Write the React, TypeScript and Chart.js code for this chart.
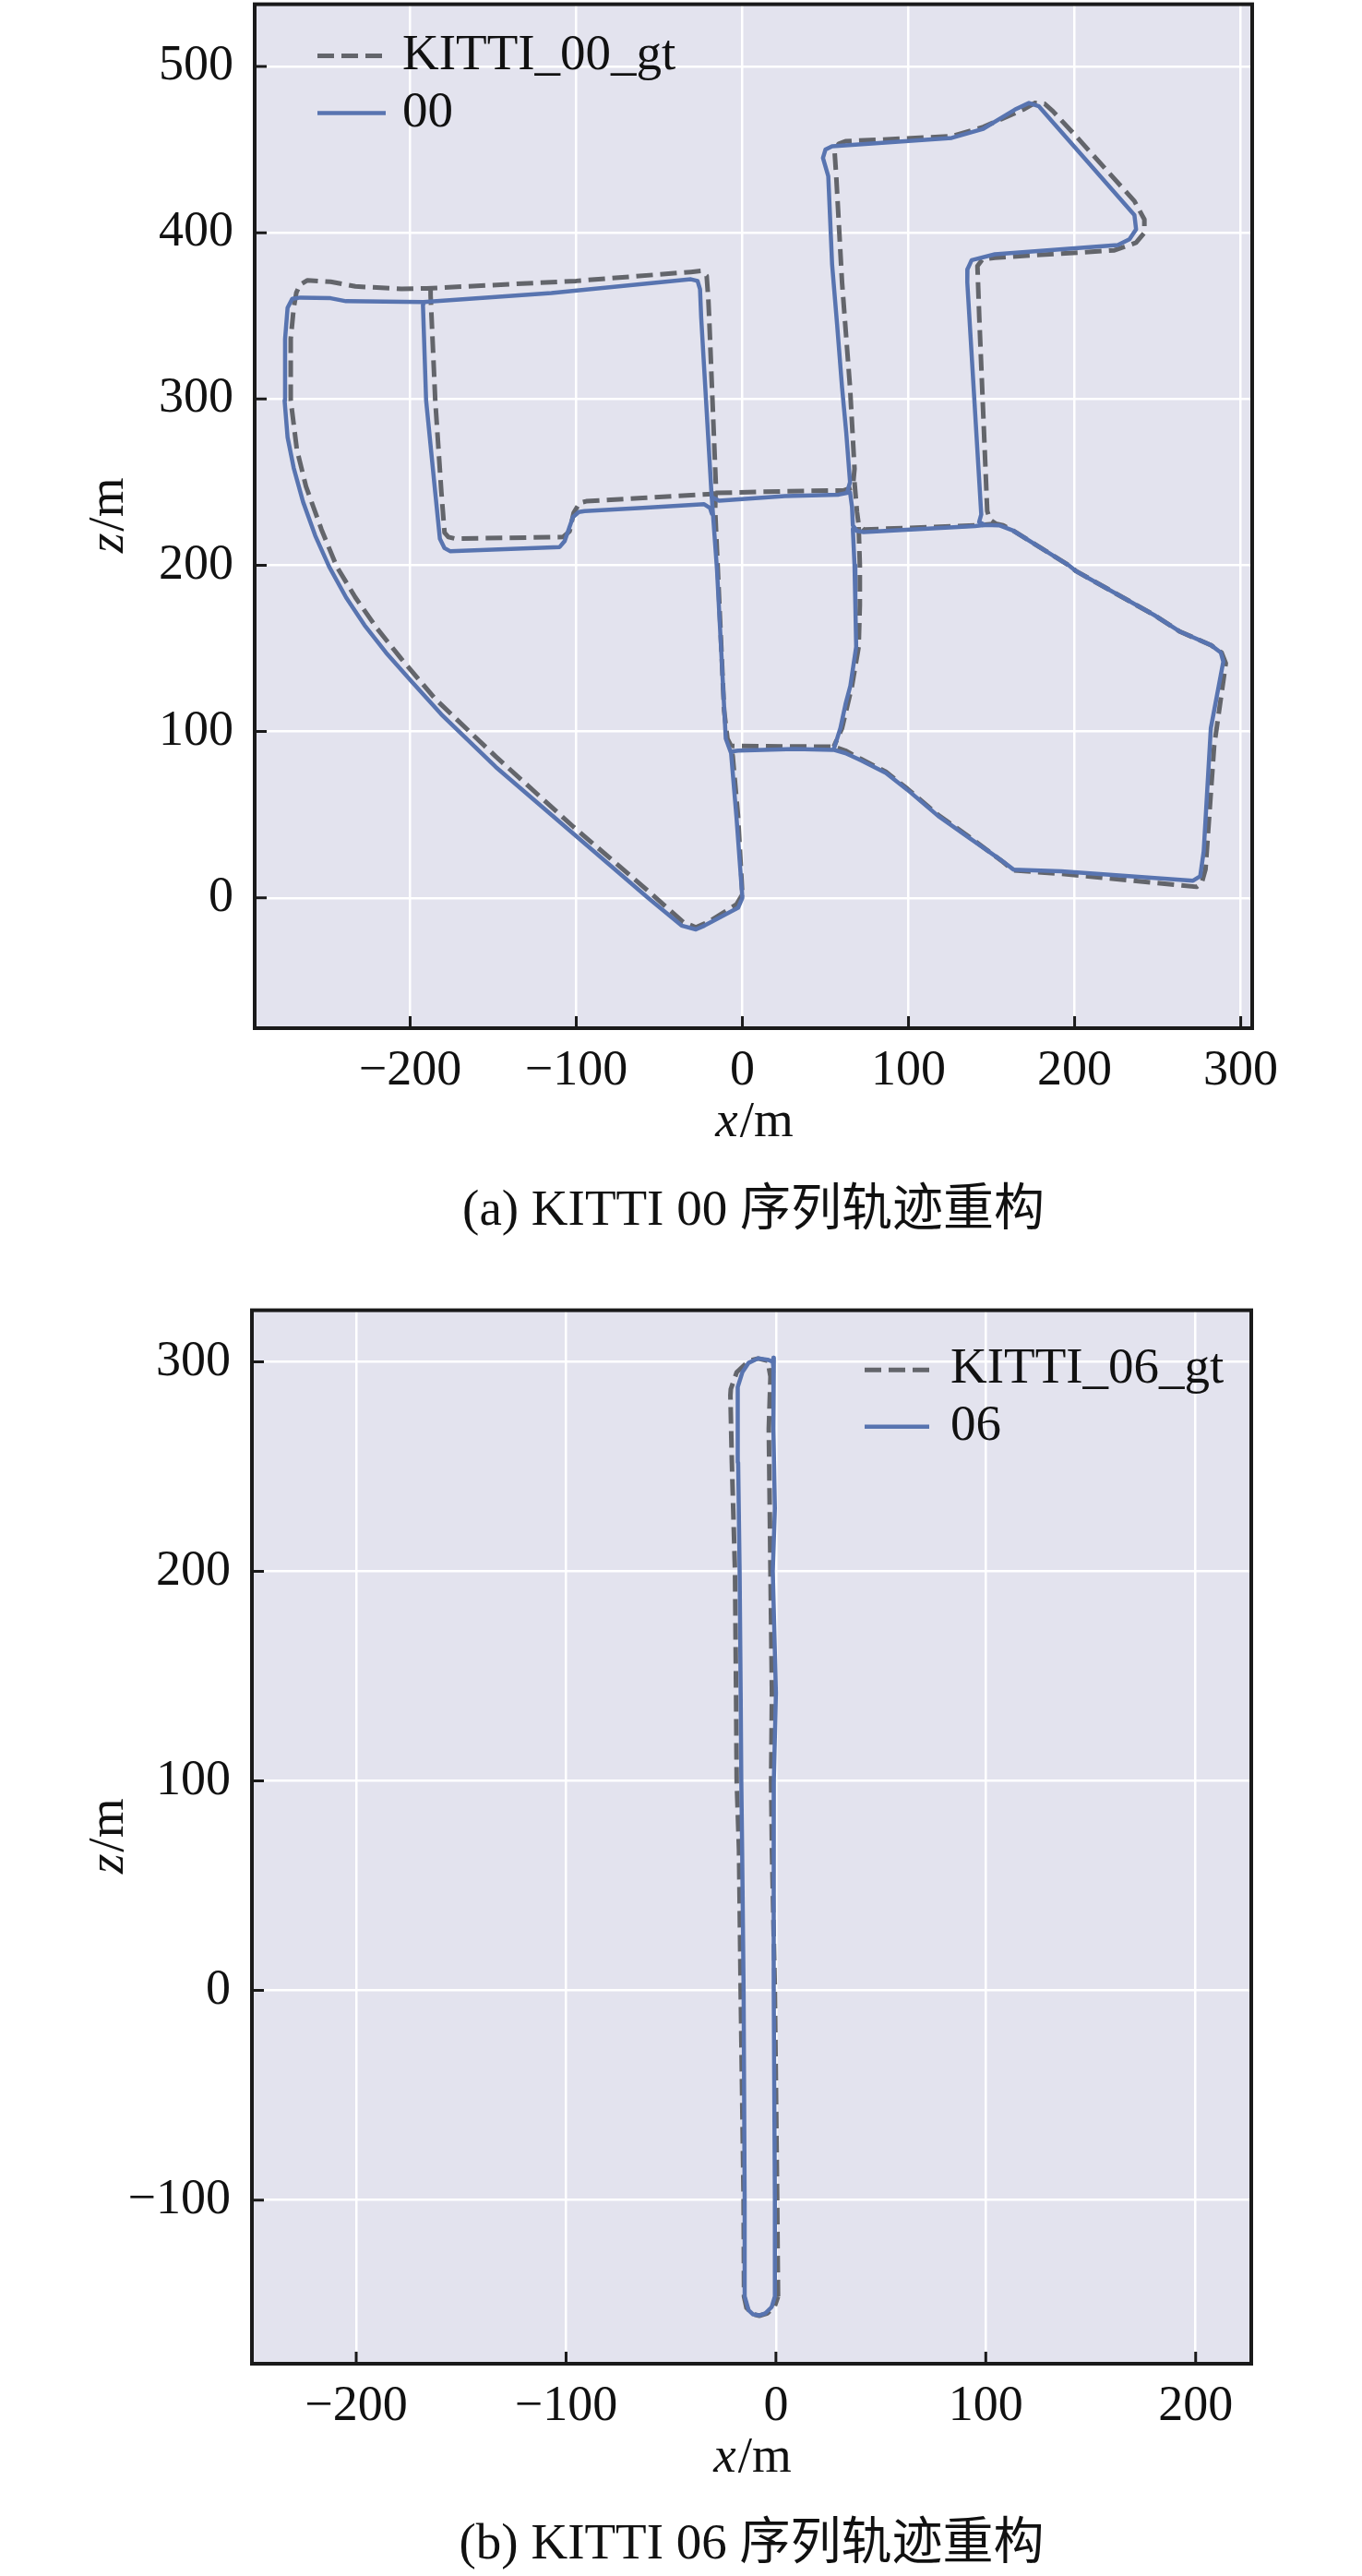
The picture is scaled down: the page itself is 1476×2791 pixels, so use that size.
import React, { useEffect, useRef } from 'react';
import { Chart, registerables } from 'chart.js';

Chart.register(...registerables);

type P = [number, number];

// ---------------- DATA: KITTI 00 ----------------
const GT00_LABEL = 'KITTI_00_gt';
const EST00_LABEL = '00';

const GT00_LOOP: P[] = [
  [0, 2], [-3.6, -4], [-20.7, -14.6], [-28, -17.8], [-35.6, -14.6], [-57, 4.4], [-101.6, 42.6],
  [-148.5, 85], [-184.9, 119.6], [-205.3, 143.7], [-220.1, 162.2], [-233, 180.7], [-244.2, 199.2],
  [-253.4, 221.5], [-262.7, 247.4], [-268.2, 269.6], [-271.9, 299.2], [-271.9, 336.2], [-270.1, 354.8],
  [-268.5, 364], [-266.4, 368.7], [-261.8, 371.4], [-247.9, 370.5], [-233, 367.7], [-205.3, 366.2],
  [-190, 366.5], [-100, 371], [-31, 376.4], [-25, 377], [-21.5, 374], [-20.5, 360], [-20, 349],
  [-16, 249], [-16.4, 233.5], [-11, 112.6], [-9, 95.7], [-6.8, 91.4], [-5.8, 85], [-2.6, 49], [0, 2],
];
const GT00_INNER: P[] = [
  [-187.7, 366.5], [-187.7, 362.2], [-184.9, 299.2], [-181.2, 243.7], [-179.3, 219.6], [-177, 217],
  [-173, 216], [-108, 217], [-104, 220.5], [-101.6, 231.4], [-98, 237.5], [-94, 238.5], [-60, 240.5],
  [-21, 242.7], [-16.2, 243],
];
const GT00_EAST: P[] = [
  [-16.2, 243.5], [25, 244.5], [61, 245], [66.5, 247], [67.5, 258], [64.8, 307], [60, 370], [56.5, 434],
  [55.5, 449], [58, 453.5], [62, 455], [126, 458], [145, 463.6], [169, 474], [176, 478], [182, 477.5],
  [187, 473], [200, 459], [236, 419], [242, 408], [242, 400], [237, 394], [224, 389.4], [152, 385],
  [144.5, 384], [141.5, 380], [142.6, 349], [147.4, 232.6], [149, 227.5], [152.5, 225], [157, 224],
  [163, 220.8], [197, 199.6], [201, 196.4], [248, 170], [263, 160.3], [282, 152], [288.5, 147.5],
  [291, 141], [284, 91.4], [278.8, 17.2], [276.5, 9], [273.5, 6.6], [192, 14.5], [163, 16.5],
  [157, 21.5], [136.4, 36.8], [117.9, 49.8], [99.3, 65.6], [86.4, 75.8], [71.6, 83.4], [62, 88.5],
  [55, 90.9], [31.4, 91], [-6.8, 91.4],
];
const GT00_LINK1: P[] = [[67.5, 250], [69, 232], [70, 224.5], [73, 221.5], [142, 224], [152.5, 225]];
const GT00_LINK2: P[] = [[70, 223], [70.7, 200], [70.7, 176], [70, 151], [66, 127.5], [60, 102], [55, 90.9]];

const EST00_LOOP: P[] = [
  [0, 0], [-2.6, -6], [-22.8, -16.7], [-28, -19], [-36.6, -16.7], [-57, 0.2], [-101.6, 38.4],
  [-148.5, 78.7], [-181.2, 110.3], [-199.7, 130.7], [-214.5, 147.4], [-227.5, 164], [-238.6, 180.7],
  [-248.8, 199.2], [-257.1, 217.7], [-264.5, 238.2], [-270.1, 258.5], [-273.8, 277], [-275.6, 299.2],
  [-275.3, 336.2], [-273.8, 354.8], [-271, 360.3], [-266, 361], [-247.9, 360.6], [-238.6, 358.8],
  [-192, 358.3], [-115, 363.7], [-31, 372], [-27, 371], [-25.5, 366], [-24.8, 349], [-18.6, 243],
  [-15.3, 197.5], [-10, 95.7], [-6.8, 87], [-3.6, 49], [0, 0],
];
const EST00_INNER: P[] = [
  [-191.5, 358.3], [-192.3, 356.5], [-190.4, 299.2], [-184.9, 243.7], [-182.1, 215.9], [-179.3, 210.3],
  [-176, 208.5], [-110, 211], [-107, 214.5], [-102, 229], [-98.5, 232], [-95, 232.6], [-60, 234.5],
  [-23, 236.7], [-19.5, 234.5], [-18.4, 231],
];
const EST00_EAST: P[] = [
  [-18.5, 241], [-14, 238.8], [25.5, 241.6], [58, 242.5], [63, 243.5], [64.8, 250], [62.5, 280],
  [60, 307], [57, 345], [54, 381], [51.7, 434], [48.5, 445], [50, 450], [54, 452], [126, 457],
  [145, 462.5], [164, 474], [172.5, 478], [178.5, 476], [236, 410.6], [237, 402], [233, 396],
  [226, 392.6], [152, 387], [138, 383.5], [135.5, 378], [135.4, 370], [143.8, 230.5], [142.5, 226],
  [146, 224.2], [154.6, 224], [163, 220.8], [197, 199.6], [201, 196.4], [248, 170], [263, 160.3],
  [282, 152], [288, 147.5], [289.5, 142], [282, 102], [277.7, 27.8], [275.6, 13], [271.3, 10.3],
  [192, 16], [163.2, 17], [154.9, 23.3], [136.4, 36.2], [117.9, 49.2], [99.3, 65], [86.4, 75.1],
  [71.6, 82.6], [62, 87], [54.9, 89], [31.4, 89.5], [-2.5, 88.5], [-6.8, 88],
];
const EST00_LINK1: P[] = [[64.8, 244], [66, 235], [66.5, 224], [69, 220.6], [73, 220], [140, 223.5], [146, 224.2]];
const EST00_LINK2: P[] = [[66.5, 222], [67.5, 200], [68, 176], [68.5, 151], [65, 127.5], [62.3, 117.4], [59, 102], [54.9, 89]];

const X_TICKS_00 = [-200, -100, 0, 100, 200, 300];
const Y_TICKS_00 = [0, 100, 200, 300, 400, 500];

// ---------------- DATA: KITTI 06 ----------------
const GT06_LABEL = 'KITTI_06_gt';
const EST06_LABEL = '06';

const GT06_LOOP: P[] = [
  [1, -146], [0.6, -100], [-0.5, 0], [-1.9, 67], [-2.3, 100], [-1.9, 142], [-2.6, 200], [-3.4, 268],
  [-2.6, 293], [-4, 300.5], [-8.5, 301.6], [-12.9, 300.5], [-18.7, 295], [-21.5, 287], [-21.7, 284],
  [-21, 252], [-19.5, 200], [-19, 142], [-18.7, 100], [-17.6, 67], [-16.8, 0], [-15.4, -100],
  [-15.2, -146], [-14, -151.5], [-11, -154.5], [-7.9, -155.2], [-4, -154], [-0.5, -150.5], [1, -146],
];
const EST06_LOOP: P[] = [
  [-1, 302], [-1.2, 290], [-1.2, 268], [-0.5, 230], [-1.5, 200], [0, 142], [-1, 100], [-1.2, 67],
  [-0.9, 0], [-0.5, -100], [-0.5, -146], [-2, -151], [-5, -154], [-7.9, -155], [-11, -154.5],
  [-13, -152.6], [-14.9, -146], [-14.9, -100], [-15.4, 0], [-16.1, 67], [-16.5, 100], [-16.8, 142],
  [-17.3, 200], [-18, 252], [-18.4, 280], [-18, 288], [-16, 295], [-13, 299.5], [-8.5, 301.6],
  [-4, 301], [-1.5, 300], [-1, 295],
];

const X_TICKS_06 = [-200, -100, 0, 100, 200];
const Y_TICKS_06 = [-100, 0, 100, 200, 300];

// ---------------- STYLE ----------------
const BG = '#e3e3ee';
const GT_COLOR = '#63656b';
const EST_COLOR = '#5874b0';
const SPINE = '#1a1a1a';
const FONT_FAMILY = '"Liberation Serif", "Times New Roman", "Noto Sans CJK SC", serif';
const W = 1476;

function joinPieces(pieces: P[][]) {
  const out: { x: number | null; y: number | null }[] = [];
  pieces.forEach((pc, i) => {
    if (i > 0) out.push({ x: null, y: null });
    pc.forEach(([x, y]) => out.push({ x, y }));
  });
  return out;
}

const fmt = (v: number) => (v < 0 ? '\u2212' + Math.abs(v) : String(v));

interface Spec {
  height: number;
  left: number; right: number; top: number; bottom: number;
  xMin: number; xMax: number; yMin: number; yMax: number;
  xTicks: number[]; yTicks: number[];
  gt: P[][]; est: P[][];
  gtLabel: string; estLabel: string;
  legend: { hx0: number; hx1: number; tx: number; base: number; gap: number };
  xTitleBase: number; yTitleX: number;
  caption: string; captionBase: number;
}

function drawMixed(ctx: CanvasRenderingContext2D, italicPart: string, rest: string, cx: number, cy: number, size: number) {
  ctx.font = `italic ${size}px ${FONT_FAMILY}`;
  const w1 = ctx.measureText(italicPart).width;
  ctx.font = `${size}px ${FONT_FAMILY}`;
  const w2 = ctx.measureText(rest).width;
  const x0 = cx - (w1 + w2) / 2;
  ctx.textAlign = 'left';
  ctx.textBaseline = 'alphabetic';
  ctx.font = `italic ${size}px ${FONT_FAMILY}`;
  ctx.fillText(italicPart, x0, cy);
  ctx.font = `${size}px ${FONT_FAMILY}`;
  ctx.fillText(rest, x0 + w1 + 2, cy);
}

function framePlugin(spec: Spec) {
  return {
    id: 'frame',
    beforeDraw(chart: any) {
      const { ctx, chartArea: a } = chart;
      ctx.save();
      ctx.fillStyle = BG;
      ctx.fillRect(a.left, a.top, a.right - a.left, a.bottom - a.top);
      ctx.restore();
    },
    afterDraw(chart: any) {
      const { ctx, chartArea: a } = chart;
      const xs = chart.scales.x;
      const ys = chart.scales.y;
      ctx.save();
      ctx.strokeStyle = SPINE;
      ctx.lineWidth = 3;
      ctx.beginPath();
      spec.xTicks.forEach((v) => {
        const px = xs.getPixelForValue(v);
        ctx.moveTo(px, a.bottom);
        ctx.lineTo(px, a.bottom - 13);
      });
      spec.yTicks.forEach((v) => {
        const py = ys.getPixelForValue(v);
        ctx.moveTo(a.left, py);
        ctx.lineTo(a.left + 13, py);
      });
      ctx.stroke();
      ctx.lineWidth = 4;
      ctx.strokeRect(a.left, a.top, a.right - a.left, a.bottom - a.top);

      const L = spec.legend;
      chart.data.datasets.forEach((ds: any, i: number) => {
        const base = L.base + i * L.gap;
        const hy = base - 14;
        ctx.beginPath();
        ctx.strokeStyle = ds.borderColor;
        ctx.lineWidth = ds.borderWidth;
        ctx.setLineDash(ds.borderDash || []);
        ctx.lineCap = 'butt';
        ctx.moveTo(L.hx0, hy);
        ctx.lineTo(L.hx1, hy);
        ctx.stroke();
        ctx.setLineDash([]);
        ctx.fillStyle = '#111';
        ctx.font = `55px ${FONT_FAMILY}`;
        ctx.textAlign = 'left';
        ctx.textBaseline = 'alphabetic';
        ctx.fillText(ds.label, L.tx, base);
      });

      ctx.fillStyle = '#111';
      const cx = (a.left + a.right) / 2;
      const cy = (a.top + a.bottom) / 2;
      drawMixed(ctx, 'x', '/m', cx, spec.xTitleBase, 55);
      ctx.save();
      ctx.translate(spec.yTitleX, cy);
      ctx.rotate(-Math.PI / 2);
      drawMixed(ctx, 'z', '/m', 0, 0, 55);
      ctx.restore();

      ctx.font = `55px ${FONT_FAMILY}`;
      ctx.textAlign = 'center';
      ctx.textBaseline = 'alphabetic';
      ctx.fillText(spec.caption, cx, spec.captionBase);
      ctx.restore();
    },
  };
}

function makeConfig(spec: Spec): any {
  const tickFont = { family: FONT_FAMILY, size: 54 };
  const zeroPad = (s: any) => {
    s.paddingTop = 0; s.paddingBottom = 0; s.paddingLeft = 0; s.paddingRight = 0;
  };
  return {
    type: 'scatter',
    data: {
      datasets: [
        {
          label: spec.gtLabel,
          data: joinPieces(spec.gt),
          showLine: true,
          borderColor: GT_COLOR,
          backgroundColor: GT_COLOR,
          borderWidth: 5,
          borderDash: [18, 8],
          borderCapStyle: 'butt',
          borderJoinStyle: 'round',
          pointRadius: 0,
          spanGaps: false,
          tension: 0,
          order: 2,
        },
        {
          label: spec.estLabel,
          data: joinPieces(spec.est),
          showLine: true,
          borderColor: EST_COLOR,
          backgroundColor: EST_COLOR,
          borderWidth: 4.5,
          borderCapStyle: 'round',
          borderJoinStyle: 'round',
          pointRadius: 0,
          spanGaps: false,
          tension: 0,
          order: 1,
        },
      ],
    },
    options: {
      animation: false,
      responsive: false,
      maintainAspectRatio: false,
      devicePixelRatio: 1,
      events: [],
      layout: { padding: { left: 0, top: spec.top, right: W - spec.right, bottom: 0 } },
      plugins: { legend: { display: false }, tooltip: { enabled: false }, title: { display: false } },
      scales: {
        x: {
          type: 'linear',
          position: 'bottom',
          min: spec.xMin,
          max: spec.xMax,
          afterFit: (s: any) => { s.height = spec.height - spec.bottom; zeroPad(s); },
          afterBuildTicks: (s: any) => { s.ticks = spec.xTicks.map((v) => ({ value: v })); },
          grid: { color: '#ffffff', lineWidth: 2.5, drawTicks: false },
          border: { display: false },
          ticks: {
            font: tickFont, color: '#111', padding: 14, maxRotation: 0, autoSkip: false,
            callback: (v: number) => fmt(v),
          },
        },
        y: {
          type: 'linear',
          position: 'left',
          min: spec.yMin,
          max: spec.yMax,
          afterFit: (s: any) => { s.width = spec.left; zeroPad(s); },
          afterBuildTicks: (s: any) => { s.ticks = spec.yTicks.map((v) => ({ value: v })); },
          grid: { color: '#ffffff', lineWidth: 2.5, drawTicks: false },
          border: { display: false },
          ticks: {
            font: tickFont, color: '#111', padding: 23, autoSkip: false,
            callback: (v: number) => fmt(v),
          },
        },
      },
    },
    plugins: [framePlugin(spec)],
  };
}

const SPEC00: Spec = {
  height: 1390,
  left: 276, right: 1357, top: 4.6, bottom: 1114,
  xMin: -293.6, xMax: 306.9, yMin: -78.4, yMax: 537.4,
  xTicks: X_TICKS_00, yTicks: Y_TICKS_00,
  gt: [GT00_LOOP, GT00_INNER, GT00_EAST, GT00_LINK1, GT00_LINK2],
  est: [EST00_LOOP, EST00_INNER, EST00_EAST, EST00_LINK1, EST00_LINK2],
  gtLabel: GT00_LABEL, estLabel: EST00_LABEL,
  legend: { hx0: 344, hx1: 418, tx: 436, base: 74.6, gap: 62 },
  xTitleBase: 1230.7, yTitleX: 133,
  caption: '(a) KITTI 00 序列轨迹重构', captionBase: 1326.7,
};

const SPEC06: Spec = {
  height: 1401,
  left: 273, right: 1356, top: 29.6, bottom: 1171,
  xMin: -249.7, xMax: 226.5, yMin: -178.1, yMax: 324.6,
  xTicks: X_TICKS_06, yTicks: Y_TICKS_06,
  gt: [GT06_LOOP],
  est: [EST06_LOOP],
  gtLabel: GT06_LABEL, estLabel: EST06_LABEL,
  legend: { hx0: 937, hx1: 1007, tx: 1030, base: 108.3, gap: 61.5 },
  xTitleBase: 1287.7, yTitleX: 133,
  caption: '(b) KITTI 06 序列轨迹重构', captionBase: 1382,
};

function TrajChart({ spec, top }: { spec: Spec; top: number }) {
  const ref = useRef<HTMLCanvasElement | null>(null);
  useEffect(() => {
    if (!ref.current) return;
    const chart = new Chart(ref.current, makeConfig(spec));
    return () => chart.destroy();
  }, [spec]);
  return (
    <canvas
      ref={ref}
      width={W}
      height={spec.height}
      style={{ position: 'absolute', left: 0, top, width: W, height: spec.height, display: 'block' }}
    />
  );
}

export default function App() {
  useEffect(() => {
    document.body.style.margin = '0';
    document.body.style.background = '#ffffff';
  }, []);
  return (
    <div style={{ position: 'relative', width: W, height: 2791, background: '#ffffff', overflow: 'hidden' }}>
      <TrajChart spec={SPEC00} top={0} />
      <TrajChart spec={SPEC06} top={1390} />
    </div>
  );
}
